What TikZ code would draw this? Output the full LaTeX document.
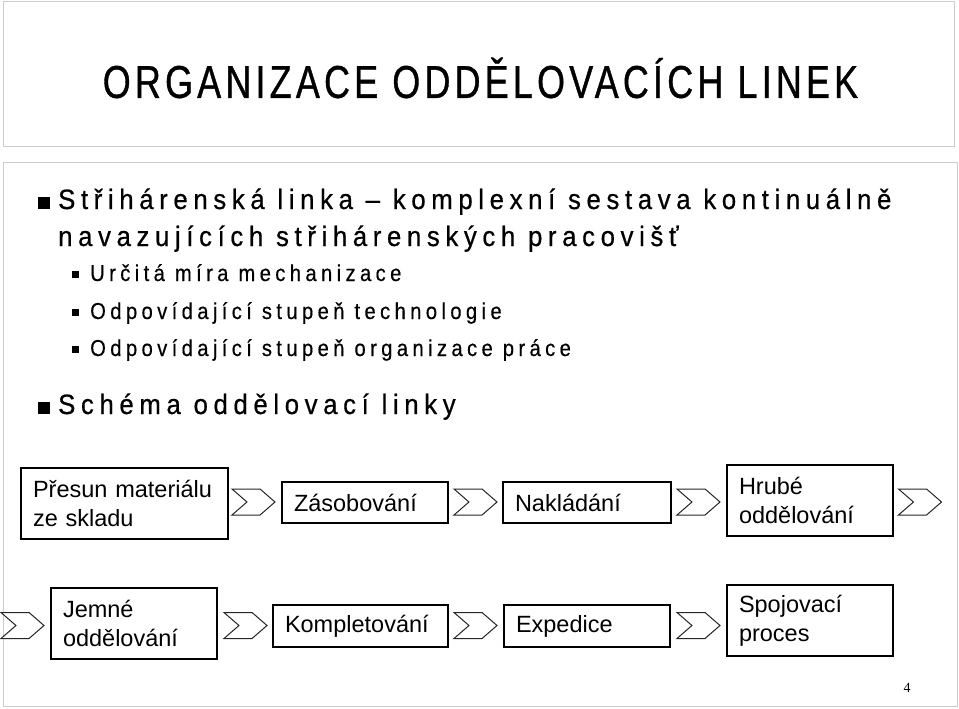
\documentclass[tikz,border=0pt]{standalone}
\usepackage{fontspec}
\setmainfont{Liberation Sans}
\newfontfamily\titlefont[FakeStretch=0.78, LetterSpace=9.2, FakeBold=0.8]{Liberation Sans}
\newfontfamily\listfont[FakeStretch=0.92, LetterSpace=20.1, FakeBold=0.6]{Liberation Sans}
\newfontfamily\sublistfont[FakeStretch=0.88, LetterSpace=19, FakeBold=0.4]{Liberation Sans}
\newfontfamily\pagefont{Liberation Serif}
\usetikzlibrary{shapes.symbols}

\begin{document}
\begin{tikzpicture}[x=1pt, y=-1pt,
    % Estilos
    frame/.style={draw=black!20, line width=1pt},
    titulo/.style={font=\titlefont\fontsize{46}{48}\selectfont, inner sep=0pt},
    item/.style={anchor=base west, inner sep=0pt, font=\listfont\fontsize{28}{30}\selectfont},
    subitem/.style={anchor=base west, inner sep=0pt, font=\sublistfont\fontsize{23}{25}\selectfont},
    bullet/.style={fill=black, inner sep=0pt, minimum size=#1},
    stage/.style={draw=black, line width=1.6pt, align=left, inner xsep=11pt, inner ysep=0pt,
        font=\fontsize{23.5}{29}\selectfont},
    chev/.style={shape=signal, signal from=west, signal to=east, signal pointer angle=82,
        draw=black!85, line width=1pt, fill=white, inner sep=0pt,
        minimum width=43pt, minimum height=26pt}
]
\useasboundingbox (0,0) rectangle (959,709);

% --- MARCOS ---
\draw[frame] (3,2) rectangle (954,146);
\draw[frame] (3,162) rectangle (957,706);

% --- TITULO ---
\node[titulo] (title) at (480.5,78) {ORGANIZACE ODDĚLOVACÍCH LINEK};

% --- VIÑETAS ---
\node[bullet=12pt] (b1) at (44,203) {};
\node[item] (l1) at (58,209) {Střihárenská linka – komplexní sestava kontinuálně};
\node[item] (l2) at (58,246) {navazujících střihárenských pracovišť};
\node[bullet=7pt] (s1) at (75,274) {};
\node[subitem] (t1) at (90,281) {Určitá míra mechanizace};
\node[bullet=7pt] (s2) at (75,312) {};
\node[subitem] (t2) at (90,319) {Odpovídající stupeň technologie};
\node[bullet=7pt] (s3) at (75,349) {};
\node[subitem] (t3) at (90,356) {Odpovídající stupeň organizace práce};
\node[bullet=12pt] (b2) at (44,408) {};
\node[item] (l3) at (58,414) {Schéma oddělovací linky};

% --- PRIMERA FILA ---
\node[stage, minimum width=207pt, minimum height=71pt, text width=183pt] (presun) at (124.5,503.5) {Přesun materiálu\\ze skladu};
\node[chev] (c1) at (253.5,502) {};
\node[stage, minimum width=166pt, minimum height=41pt, text width=142pt] (zasob) at (365,502.5) {Zásobování};
\node[chev] (c2) at (475.5,502) {};
\node[stage, minimum width=168pt, minimum height=41pt, text width=144pt] (naklad) at (587,502.5) {Nakládání};
\node[chev] (c3) at (698.5,502) {};
\node[stage, minimum width=166pt, minimum height=71pt, text width=142pt] (hrube) at (810,500.5) {Hrubé\\oddělování};
\node[chev] (c4) at (920,502) {};

% --- SEGUNDA FILA ---
\node[chev] (c0) at (22.5,625.5) {};
\node[stage, minimum width=166pt, minimum height=71pt, text width=142pt] (jemne) at (134,623.5) {Jemné\\oddělování};
\node[chev] (c5) at (245.5,625.5) {};
\node[stage, minimum width=175pt, minimum height=42pt, text width=151pt] (komplet) at (360.5,626) {Kompletování};
\node[chev] (c6) at (475.5,625.5) {};
\node[stage, minimum width=166pt, minimum height=42pt, text width=142pt] (exped) at (587,626) {Expedice};
\node[chev] (c7) at (698.5,625.5) {};
\node[stage, minimum width=166pt, minimum height=71pt, text width=142pt] (spoj) at (810,620.5) {Spojovací\\proces};

% numero de pagina
\node[font=\pagefont\fontsize{14}{16}\selectfont] (page) at (907,688) {4};

\end{tikzpicture}
\end{document}
